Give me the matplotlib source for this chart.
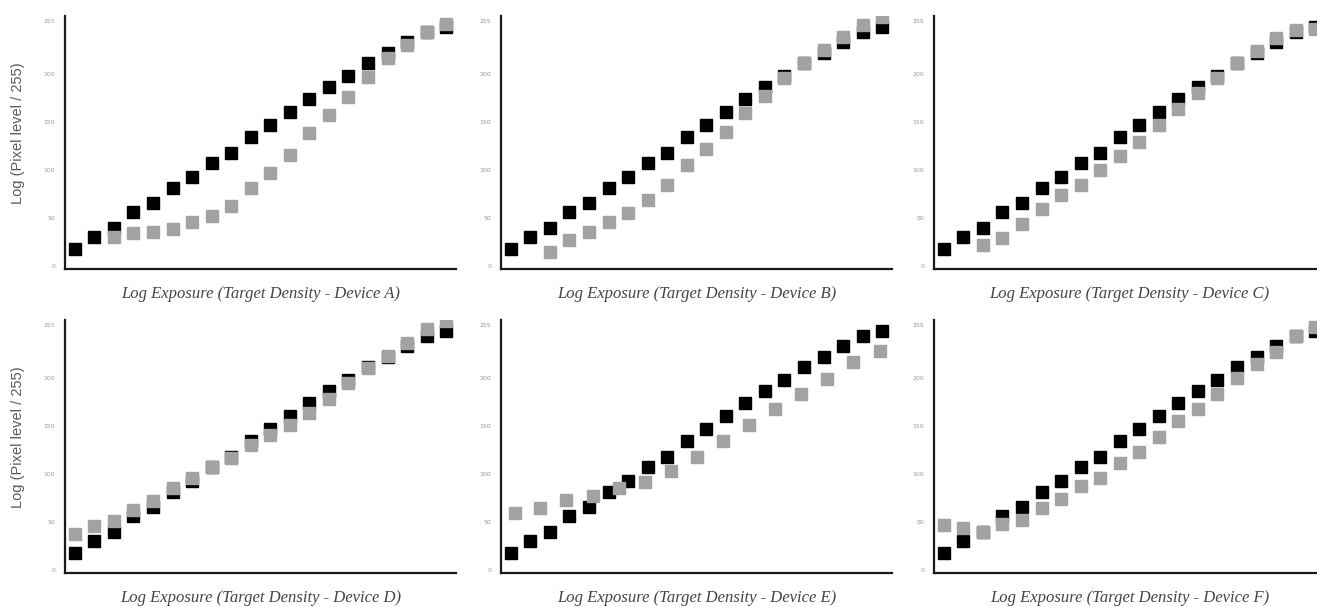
import numpy as np
import matplotlib
matplotlib.use("Agg")
import matplotlib.pyplot as plt

# curva de referencia (quadrados pretos), igual em todos os paineis
idx_ref = list(range(20))
ref_vals = [18, 30, 40, 56, 66, 81, 93, 107, 118, 134, 147, 160, 174, 186, 198, 211, 222, 233, 243, 249]

# curvas dos dispositivos (quadrados cinza)
idx_a = list(range(2, 20))
vals_a = [30, 34, 35, 39, 46, 52, 62, 81, 97, 116, 138, 157, 176, 197, 216, 230, 243, 252]

idx_b = list(range(2, 20))
vals_b = [15, 27, 35, 46, 55, 69, 84, 105, 122, 139, 159, 177, 196, 211, 225, 238, 251, 259]

idx_c = list(range(2, 20))
vals_c = [22, 29, 44, 59, 74, 84, 100, 114, 129, 147, 163, 180, 196, 211, 224, 237, 245, 246]

idx_d = list(range(20))
vals_d = [38, 46, 51, 63, 72, 85, 96, 107, 117, 130, 140, 151, 163, 178, 194, 210, 223, 236, 251, 259]

idx_e = [0.2, 1.5, 2.85, 4.2, 5.55, 6.85, 8.2, 9.5, 10.85, 12.2, 13.5, 14.85, 16.2, 17.5, 18.9]
vals_e = [59, 65, 73, 77, 85, 92, 103, 118, 134, 151, 167, 183, 199, 216, 228]

idx_f = list(range(20))
vals_f = [47, 44, 40, 48, 52, 65, 74, 87, 96, 111, 123, 138, 155, 168, 183, 200, 214, 227, 243, 253]

devices = ["A", "B", "C", "D", "E", "F"]
series = [(idx_a, vals_a), (idx_b, vals_b), (idx_c, vals_c),
          (idx_d, vals_d), (idx_e, vals_e), (idx_f, vals_f)]
yticks = [0, 50, 100, 150, 200, 255]

W, H = 1317, 607
fig = plt.figure(figsize=(W / 100, H / 100), dpi=100)

lefts = [65, 501, 934]
bottoms = [269, 573]  # pixel da linha do eixo x
ax_w, ax_h = 391, 253

for k, dev in enumerate(devices):
    row, col = divmod(k, 3)
    left = lefts[col] / W
    bottom = 1 - bottoms[row] / H
    ax = fig.add_axes([left, bottom, ax_w / W, ax_h / H])

    ax.plot(idx_ref, ref_vals, linestyle="none", marker="s", markersize=8.6,
            color="black", zorder=2)
    xs, ys = series[k]
    ax.plot(xs, ys, linestyle="none", marker="s", markersize=8.6,
            color="#a2a2a2", zorder=3)

    ax.set_xlim(-0.5, 19.5)
    ax.set_ylim(-3, 260)
    ax.set_xticks([])
    ax.set_yticks(yticks)
    ax.tick_params(axis="y", length=0, pad=7, labelsize=4.5, labelcolor="#999999")
    for s in ["top", "right"]:
        ax.spines[s].set_visible(False)
    for s in ["left", "bottom"]:
        ax.spines[s].set_linewidth(1.6)
        ax.spines[s].set_color("#1a1a1a")

    ax.set_xlabel(f"Log Exposure (Target Density - Device {dev})",
                  fontfamily="Liberation Serif", fontstyle="italic",
                  fontsize=12, color="#444444", labelpad=12)
    if col == 0:
        ax.set_ylabel("Log (Pixel level / 255)", fontfamily="Liberation Sans",
                      fontsize=10.5, color="#5a5a5a")
        ax.yaxis.set_label_coords(-0.103, 0.535)

fig.savefig("out.png", dpi=100)
